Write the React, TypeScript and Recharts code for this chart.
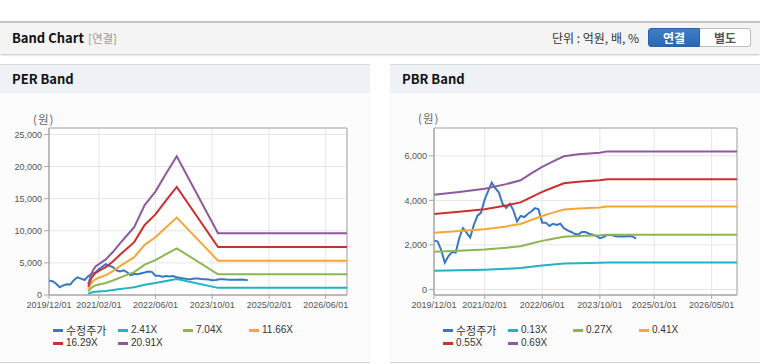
import React from 'react';
import { LineChart, Line, XAxis, YAxis, CartesianGrid, ReferenceArea } from 'recharts';

// ---------- data ----------
const priceDates = [
  '2019/12/01', '2020/01/01', '2020/02/01', '2020/03/01', '2020/04/01', '2020/05/01', '2020/06/01',
  '2020/07/01', '2020/08/01', '2020/09/01', '2020/10/01', '2020/11/01', '2020/12/01',
  '2021/01/01', '2021/02/01', '2021/03/01', '2021/04/01', '2021/05/01', '2021/06/01',
  '2021/07/01', '2021/08/01', '2021/09/01', '2021/10/01', '2021/11/01', '2021/12/01',
  '2022/01/01', '2022/02/01', '2022/03/01', '2022/04/01', '2022/05/01', '2022/06/01',
  '2022/07/01', '2022/08/01', '2022/09/01', '2022/10/01', '2022/11/01', '2022/12/01',
  '2023/01/01', '2023/02/01', '2023/03/01', '2023/04/01', '2023/05/01', '2023/06/01',
  '2023/07/01', '2023/08/01', '2023/09/01', '2023/10/01', '2023/11/01', '2023/12/01',
  '2024/01/01', '2024/02/01', '2024/03/01', '2024/04/01', '2024/05/01', '2024/06/01',
  '2024/07/01', '2024/08/01',
];
const priceValues = [
  2200, 2150, 1750, 1200, 1500, 1680, 1650,
  2300, 2750, 2550, 2330, 2900, 3300,
  3450, 4050, 4400, 4800, 4550, 4350,
  3850, 3660, 3850, 3550, 3050, 3300,
  3250, 3400, 3500, 3650, 3600, 3000,
  3000, 2850, 2950, 2900, 2950, 2750,
  2650, 2580, 2500, 2460, 2580, 2580,
  2500, 2460, 2400, 2300, 2350, 2450,
  2450, 2400, 2380, 2380, 2380, 2400,
  2380, 2280,
];

const perBandDates = [
  '2020/11/01', '2020/12/01', '2021/01/01', '2021/02/01', '2021/04/01', '2021/06/01', '2021/08/01',
  '2021/10/01', '2021/12/01', '2022/03/01', '2022/06/01', '2022/09/01', '2022/12/01', '2023/11/20',
  '2026/12/01',
];
const per241 = [190, 400, 510, 550, 640, 770, 930, 1070, 1220, 1610, 1860, 2180, 2490, 1110, 1110];
const per704 = [560, 1160, 1480, 1620, 1870, 2250, 2710, 3130, 3560, 4720, 5420, 6370, 7270, 3230, 3230];
const per1166 = [930, 1920, 2450, 2680, 3090, 3730, 4490, 5190, 5890, 7810, 8980, 10550, 12050, 5350, 5350];
const per1629 = [1300, 2690, 3420, 3750, 4320, 5210, 6270, 7250, 8230, 10910, 12540, 14740, 16830, 7480, 7480];
const per2091 = [1670, 3450, 4390, 4810, 5540, 6690, 8050, 9300, 10560, 14010, 16100, 18920, 21600, 9600, 9600];

const pbrBandDates = [
  '2019/12/01', '2020/07/01', '2021/02/01', '2021/08/01', '2021/12/01', '2022/03/01', '2022/06/01',
  '2022/09/01', '2022/12/01', '2023/04/01', '2023/10/01', '2023/12/01', '2026/12/01',
];
const pbr013 = [835, 860, 885, 925, 960, 1020, 1075, 1120, 1165, 1180, 1195, 1205, 1205];
const pbr027 = [1690, 1740, 1790, 1870, 1940, 2060, 2180, 2280, 2370, 2400, 2430, 2460, 2460];
const pbr041 = [2540, 2620, 2700, 2830, 2940, 3120, 3300, 3450, 3590, 3640, 3680, 3720, 3720];
const pbr055 = [3390, 3490, 3600, 3770, 3910, 4150, 4380, 4580, 4770, 4840, 4900, 4950, 4950];
const pbr069 = [4250, 4380, 4520, 4730, 4900, 5210, 5500, 5750, 5980, 6070, 6140, 6200, 6200];

const perLabels = ['수정주가', '2.41X', '7.04X', '11.66X', '16.29X', '20.91X'];
const pbrLabels = ['수정주가', '0.13X', '0.27X', '0.41X', '0.55X', '0.69X'];
const perXTicks = ['2019/12/01', '2021/02/01', '2022/06/01', '2023/10/01', '2025/02/01', '2026/06/01'];
const pbrXTicks = ['2019/12/01', '2021/02/01', '2022/06/01', '2023/10/01', '2025/01/01', '2026/05/01'];
const perYTicks = [0, 5000, 10000, 15000, 20000, 25000];
const pbrYTicks = [0, 2000, 4000, 6000];
const xStart = '2019/12/01';
const xEnd = '2026/12/01';

const COLORS = ['#3a76c6', '#1fb3c5', '#8db653', '#f4a734', '#c8312d', '#8d5a9d'];

// ---------- helpers ----------
const ts = (s: string) => {
  const [y, m, d] = s.split('/').map(Number);
  return Date.UTC(y, m - 1, d);
};
const fmt = (t: number) => {
  const d = new Date(t);
  return `${d.getUTCFullYear()}/${String(d.getUTCMonth() + 1).padStart(2, '0')}/${String(d.getUTCDate()).padStart(2, '0')}`;
};
const pts = (dates: string[], vals: number[]) => dates.map((d, i) => ({ t: ts(d), v: vals[i] }));
const numFmt = (v: number) => v.toLocaleString('en-US');

const LATIN = '"Liberation Sans", Arial, "Noto Sans CJK KR", sans-serif';
const KR = '"Noto Sans CJK KR", "Liberation Sans", sans-serif';

type Series = { data: { t: number; v: number }[]; color: string };

function Band(props: {
  left: number;
  yWidth: number;
  yDomain: [number, number];
  yTicks: number[];
  xTicks: string[];
  series: Series[];
}) {
  const { left, yWidth, yDomain, yTicks, xTicks, series } = props;
  const x1 = ts(xStart);
  const x2 = ts(xEnd);
  return (
    <div style={{ position: 'absolute', left, top: 100 }}>
      <LineChart width={370} height={230} margin={{ top: 28, right: 23, bottom: 5, left: 0 }}>
        <CartesianGrid stroke="#e6e6e6" fill="#ffffff" />
        <XAxis
          type="number"
          dataKey="t"
          domain={[x1, x2]}
          allowDataOverflow
          ticks={xTicks.map(ts)}
          tickFormatter={fmt}
          height={30}
          tickSize={4}
          tickMargin={3}
          stroke="#a8a8a8"
          tick={{ fill: '#555', fontSize: 9, fontFamily: LATIN }}
          interval={0}
        />
        <YAxis
          type="number"
          domain={yDomain}
          allowDataOverflow
          ticks={yTicks}
          tickFormatter={numFmt}
          width={yWidth}
          tickSize={5}
          tickMargin={2}
          stroke="#a8a8a8"
          tick={{ fill: '#555', fontSize: 9, fontFamily: LATIN }}
          interval={0}
        />
        <ReferenceArea x1={x1} x2={x2} y1={yDomain[0]} y2={yDomain[1]} fill="none" stroke="#a8a8a8" strokeWidth={1} ifOverflow="visible" />
        {series.map((s, i) => (
          <Line
            key={i}
            data={s.data}
            dataKey="v"
            type="linear"
            stroke={s.color}
            strokeWidth={2}
            dot={false}
            activeDot={false}
            isAnimationActive={false}
          />
        ))}
      </LineChart>
    </div>
  );
}

function Legend({ left, labels }: { left: number; labels: string[] }) {
  const cols = [0, 65, 130, 196];
  return (
    <>
      {labels.map((lab, i) => {
        const row = Math.floor(i / 4);
        const col = i % 4;
        const isKr = /[가-힣]/.test(lab);
        return (
          <div
            key={i}
            style={{
              position: 'absolute',
              left: left + cols[col],
              top: 330 + row * 13 - 7,
              height: 14,
              display: 'flex',
              alignItems: 'center',
              whiteSpace: 'nowrap',
            }}
          >
            <div style={{ width: 10, height: 3, background: COLORS[i], marginRight: 3 }} />
            <span style={{ fontFamily: isKr ? KR : LATIN, fontSize: isKr ? 11 : 10, color: '#333', lineHeight: '14px' }}>{lab}</span>
          </div>
        );
      })}
    </>
  );
}

function Panel({ left, width, title }: { left: number; width: number; title: string }) {
  return (
    <>
      <div
        style={{
          position: 'absolute',
          left,
          top: 64,
          width,
          height: 297,
          background: '#fcfcfc',
          borderTop: '1px solid #d6d6d6',
          borderBottom: '1px solid #d0d0d0',
        }}
      />
      <div
        style={{
          position: 'absolute',
          left,
          top: 65,
          width,
          height: 28,
          background: '#eef1f6',
        }}
      />
      <div
        style={{
          position: 'absolute',
          left: left + 12,
          top: 65,
          height: 28,
          lineHeight: '28px',
          fontFamily: KR,
          fontWeight: 700,
          fontSize: 13,
          color: '#111',
        }}
      >
        {title}
      </div>
    </>
  );
}

export default function App() {
  const perSeries: Series[] = [
    { data: pts(priceDates, priceValues), color: COLORS[0] },
    { data: pts(perBandDates, per241), color: COLORS[1] },
    { data: pts(perBandDates, per704), color: COLORS[2] },
    { data: pts(perBandDates, per1166), color: COLORS[3] },
    { data: pts(perBandDates, per1629), color: COLORS[4] },
    { data: pts(perBandDates, per2091), color: COLORS[5] },
  ];
  const pbrSeries: Series[] = [
    { data: pts(priceDates, priceValues), color: COLORS[0] },
    { data: pts(pbrBandDates, pbr013), color: COLORS[1] },
    { data: pts(pbrBandDates, pbr027), color: COLORS[2] },
    { data: pts(pbrBandDates, pbr041), color: COLORS[3] },
    { data: pts(pbrBandDates, pbr055), color: COLORS[4] },
    { data: pts(pbrBandDates, pbr069), color: COLORS[5] },
  ];
  return (
    <div style={{ position: 'absolute', left: 0, top: 0, width: 760, height: 364, background: '#fff', overflow: 'hidden' }}>
      {/* header */}
      <div
        style={{
          position: 'absolute',
          left: 0,
          top: 21,
          width: 760,
          height: 31,
          background: '#f4f4f4',
          borderTop: '2px solid #c4c4c4',
          boxShadow: '0 1px 2px rgba(0,0,0,0.25)',
        }}
      />
      <div style={{ position: 'absolute', left: 12, top: 29, lineHeight: '18px', fontFamily: KR, fontWeight: 700, fontSize: 13, color: '#111' }}>
        Band Chart
      </div>
      <div style={{ position: 'absolute', left: 88, top: 29, lineHeight: '18px', fontFamily: KR, fontSize: 11.5, color: '#999' }}>[연결]</div>
      <div style={{ position: 'absolute', left: 552, top: 29, lineHeight: '18px', fontFamily: KR, fontSize: 12, color: '#333' }}>
        단위 : 억원, 배, %
      </div>
      <div
        style={{
          position: 'absolute',
          left: 648,
          top: 28,
          width: 52,
          height: 19,
          background: 'linear-gradient(#3b7fc8, #2b68ae)',
          border: '1px solid #2a62a3',
          borderRadius: '3px 0 0 3px',
          boxSizing: 'border-box',
          color: '#fff',
          fontFamily: KR,
          fontWeight: 700,
          fontSize: 12,
          textAlign: 'center',
          lineHeight: '17px',
        }}
      >
        연결
      </div>
      <div
        style={{
          position: 'absolute',
          left: 700,
          top: 28,
          width: 51,
          height: 19,
          background: '#fff',
          border: '1px solid #bdbdbd',
          borderLeft: 'none',
          borderRadius: '0 3px 3px 0',
          boxSizing: 'border-box',
          color: '#555',
          fontFamily: KR,
          fontWeight: 700,
          fontSize: 12,
          textAlign: 'center',
          lineHeight: '17px',
        }}
      >
        별도
      </div>

      <Panel left={0} width={370} title="PER Band" />
      <Panel left={390} width={370} title="PBR Band" />

      <div style={{ position: 'absolute', left: 33, top: 111, lineHeight: '16px', fontFamily: KR, fontSize: 11.5, color: '#666', letterSpacing: 1 }}>(원)</div>
      <div style={{ position: 'absolute', left: 418, top: 110, lineHeight: '16px', fontFamily: KR, fontSize: 11.5, color: '#666', letterSpacing: 1 }}>(원)</div>

      <Band left={0} yWidth={49} yDomain={[0, 26000]} yTicks={perYTicks} xTicks={perXTicks} series={perSeries} />
      <Band left={390} yWidth={44} yDomain={[-250, 7250]} yTicks={pbrYTicks} xTicks={pbrXTicks} series={pbrSeries} />

      <Legend left={53} labels={perLabels} />
      <Legend left={443} labels={pbrLabels} />
    </div>
  );
}
